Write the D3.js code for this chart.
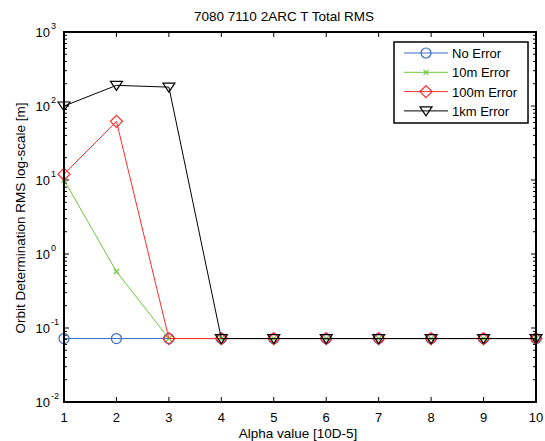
<!DOCTYPE html>
<html>
<head>
<meta charset="utf-8">
<script src="https://cdn.jsdelivr.net/npm/d3@7"></script>
<style>
  body { margin: 0; background: #fff; }
  text { font-family: "Liberation Sans", Arial, sans-serif; }
</style>
</head>
<body>
<div id="chart"></div>
<script>
// data
var alphaValues = [1, 2, 3, 4, 5, 6, 7, 8, 9, 10];
var noError   = [0.072, 0.072, 0.072, 0.072, 0.072, 0.072, 0.072, 0.072, 0.072, 0.072];
var err10m    = [10, 0.58, 0.072, 0.072, 0.072, 0.072, 0.072, 0.072, 0.072, 0.072];
var err100m   = [12, 62, 0.072, 0.072, 0.072, 0.072, 0.072, 0.072, 0.072, 0.072];
var err1km    = [100, 190, 180, 0.072, 0.072, 0.072, 0.072, 0.072, 0.072, 0.072];
var seriesNames = ["No Error", "10m Error", "100m Error", "1km Error"];
var yTickExps = [-2, -1, 0, 1, 2, 3];

var width = 545, height = 441;
// plot box edges (window.top is reserved, so prefixed names)
var pLeft = 64, pRight = 536, pTop = 32, pBottom = 402;

var series = [
    { name: seriesNames[0], values: noError, color: "#3a6cc6", marker: "circle" },
    { name: seriesNames[1], values: err10m, color: "#6cc63a", marker: "x" },
    { name: seriesNames[2], values: err100m, color: "#ff2a2a", marker: "diamond" },
    { name: seriesNames[3], values: err1km, color: "#000000", marker: "tri" }
];

var x = d3.scaleLinear().domain([1, 10]).range([pLeft, pRight]);
var y = d3.scaleLog().domain([0.01, 1000]).range([pBottom, pTop]);

var svg = d3.select("#chart").append("svg")
    .attr("width", width)
    .attr("height", height);

svg.append("rect").attr("width", width).attr("height", height).attr("fill", "#fff");

// minor ticks on log axis (both sides, pointing in)
var minorVals = [];
for (var e = -2; e < 3; e++) {
    for (var m = 2; m <= 9; m++) minorVals.push(m * Math.pow(10, e));
}
var ticks = svg.append("g").attr("stroke", "#000").attr("stroke-width", 1);
minorVals.forEach(function (v) {
    ticks.append("line").attr("x1", pLeft).attr("x2", pLeft + 3).attr("y1", y(v)).attr("y2", y(v));
    ticks.append("line").attr("x1", pRight).attr("x2", pRight - 3).attr("y1", y(v)).attr("y2", y(v));
});
yTickExps.forEach(function (e) {
    var v = Math.pow(10, e);
    ticks.append("line").attr("x1", pLeft).attr("x2", pLeft + 5).attr("y1", y(v)).attr("y2", y(v));
    ticks.append("line").attr("x1", pRight).attr("x2", pRight - 5).attr("y1", y(v)).attr("y2", y(v));
});
alphaValues.forEach(function (a) {
    ticks.append("line").attr("x1", x(a)).attr("x2", x(a)).attr("y1", pBottom).attr("y2", pBottom - 5);
    ticks.append("line").attr("x1", x(a)).attr("x2", x(a)).attr("y1", pTop).attr("y2", pTop + 5);
});

// x tick labels
svg.append("g").selectAll("text")
    .data(alphaValues).enter().append("text")
    .attr("x", function (d) { return x(d); })
    .attr("y", pBottom + 20)
    .attr("text-anchor", "middle")
    .style("font-size", "13px")
    .text(function (d) { return d; });

// y tick labels 10^n
var yl = svg.append("g").selectAll("g")
    .data(yTickExps).enter().append("g")
    .attr("transform", function (d) { return "translate(0," + y(Math.pow(10, d)) + ")"; });
yl.append("text")
    .attr("x", 50).attr("y", 5)
    .attr("text-anchor", "end")
    .style("font-size", "13px")
    .text("10");
yl.append("text")
    .attr("x", 51).attr("y", -3)
    .style("font-size", "9px")
    .text(function (d) { return d; });

// lines and markers
var line = d3.line()
    .x(function (d, i) { return x(alphaValues[i]); })
    .y(function (d) { return y(d); });

function drawMarker(g, type, color) {
    if (type == "circle") {
        g.append("circle").attr("r", 5).attr("fill", "none").attr("stroke", color).attr("stroke-width", 1.2);
    } else if (type == "x") {
        g.append("path").attr("d", "M-2.5,-2.5L2.5,2.5M-2.5,2.5L2.5,-2.5").attr("stroke", color).attr("stroke-width", 1.2);
    } else if (type == "diamond") {
        g.append("path").attr("d", "M0,-6L6,0L0,6L-6,0Z").attr("fill", "none").attr("stroke", color).attr("stroke-width", 1.2);
    } else if (type == "tri") {
        g.append("path").attr("d", "M-6,-4L6,-4L0,5Z").attr("fill", "none").attr("stroke", color).attr("stroke-width", 1.2);
    }
}

series.forEach(function (s) {
    svg.append("path")
        .datum(s.values)
        .attr("d", line)
        .attr("fill", "none")
        .attr("stroke", s.color)
        .attr("stroke-width", 1);
    s.values.forEach(function (v, i) {
        var g = svg.append("g").attr("transform", "translate(" + x(alphaValues[i]) + "," + y(v) + ")");
        drawMarker(g, s.marker, s.color);
    });
});

// axes box
svg.append("rect")
    .attr("x", pLeft).attr("y", pTop)
    .attr("width", pRight - pLeft).attr("height", pBottom - pTop)
    .attr("fill", "none").attr("stroke", "#000").attr("stroke-width", 2);

// legend
var lg = svg.append("g").attr("transform", "translate(394,42)");
lg.append("rect").attr("width", 134).attr("height", 81)
    .attr("fill", "#fff").attr("stroke", "#000").attr("stroke-width", 1.5);
series.forEach(function (s, i) {
    var row = lg.append("g").attr("transform", "translate(0," + (11 + i * 19.3) + ")");
    row.append("line").attr("x1", 10).attr("x2", 54).attr("stroke", s.color).attr("stroke-width", 1);
    var mk = row.append("g").attr("transform", "translate(32,0)");
    drawMarker(mk, s.marker, s.color);
    row.append("text").attr("x", 58).attr("y", 5).style("font-size", "13px").text(s.name);
});

// title and axis labels
svg.append("text").attr("x", 284).attr("y", 21).attr("text-anchor", "middle")
    .style("font-size", "13.5px").text("7080 7110 2ARC T Total RMS");
svg.append("text").attr("x", 298).attr("y", 438).attr("text-anchor", "middle")
    .style("font-size", "13.5px").text("Alpha value [10D-5]");
svg.append("text")
    .attr("transform", "translate(25,218) rotate(-90)")
    .attr("text-anchor", "middle")
    .style("font-size", "13.5px")
    .text("Orbit Determination RMS  log-scale [m]");
</script>
</body>
</html>
